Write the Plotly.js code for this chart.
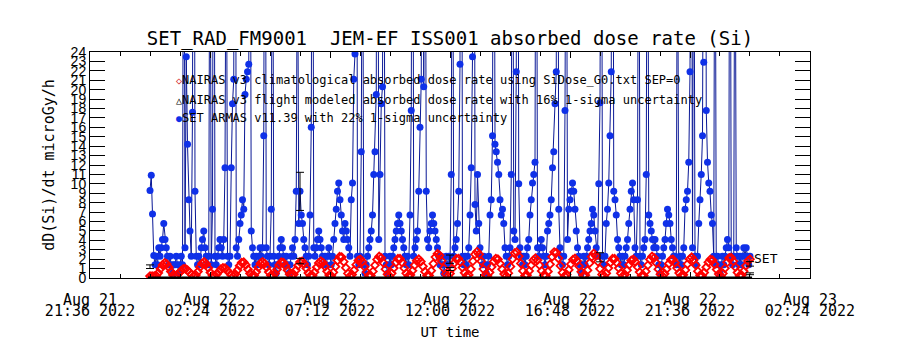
<!DOCTYPE html>
<html>
<head>
<meta charset="utf-8">
<script src="https://cdn.plot.ly/plotly-3.0.1.min.js"></script>
<style>html,body{margin:0;padding:0;background:#fff;}#chart{width:900px;height:350px;}</style>
</head>
<body>
<div id="chart"></div>
<script>
// ---- DATA ----
// SET ARMAS dose rate (microGy/h), 3-minute samples starting 2022-08-22 00:00 UT
const seriesStartUTC = '2022-08-22 00:00:00';
const blueStepMinutes = 3;
const setArmasValues = [
 9.3,10.9,6.8,2.4,1.4,2.3,1.4,3.2,2.3,3.2,4.1,5.8,4.1,3.2,2.3,1.4,2.3,1.4,0.5,1.4,
 1.4,2.3,1.4,0.5,1.4,2.3,1.4,60,3.2,23.5,14.2,8.3,5.0,2.3,17.6,80,9.2,2.3,1.4,2.3,
 1.4,3.2,4.1,5.0,3.2,2.3,1.4,2.3,50,1.4,7.3,70,2.3,1.4,2.3,3.2,4.1,3.2,2.3,4.1,
 11.7,45,2.3,1.4,2.3,11.7,18.5,21.1,90,3.2,2.3,4.1,5.8,6.7,8.3,7.3,19.5,21.1,21.9,22.7,
 60,5.0,3.2,2.3,1.4,2.3,1.4,2.3,3.2,2.3,3.2,15.1,70,3.2,2.3,1.4,2.3,7.3,55,2.3,
 1.4,0.5,1.4,2.3,3.2,4.1,3.2,2.3,1.4,2.3,1.4,0.5,1.4,2.3,3.2,2.3,4.1,9.2,40,5.8,
 9.2,6.7,5.8,4.1,3.2,2.3,1.4,2.3,6.7,16.0,65,3.2,2.3,3.2,4.1,5.0,4.1,3.2,2.3,1.4,
 2.3,1.4,2.3,3.2,2.3,1.4,2.3,4.1,5.8,7.3,9.2,10.1,8.3,6.7,5.0,4.1,5.8,5.0,4.1,3.2,
 2.3,8.3,10.1,21.1,23.8,85,2.3,1.4,2.3,13.4,50,1.4,0.5,1.4,2.3,3.2,4.1,5.0,6.7,11.0,
 13.4,19.5,75,4.1,11.0,18.5,20.3,60,2.3,1.4,0.5,1.4,2.3,1.4,2.3,3.2,4.1,5.0,5.8,6.7,
 5.8,5.0,4.1,3.2,2.3,1.4,2.3,1.4,6.7,17.8,70,2.3,3.2,4.1,5.0,9.2,16.0,21.1,90,20.3,
 60,9.2,4.1,3.2,5.0,5.8,6.7,5.8,5.0,4.1,3.2,2.3,1.4,2.3,1.4,0.5,1.4,2.3,1.4,2.3,
 1.4,11.0,55,2.3,3.2,4.1,5.8,9.2,22.7,80,2.3,1.4,2.3,1.4,2.3,3.2,6.7,11.7,23.5,95,
 7.8,5.0,11.0,5.8,3.2,2.3,1.4,2.3,1.4,0.5,1.4,2.3,6.7,8.3,15.1,70,14.2,13.4,12.3,11.0,
 8.3,6.7,7.3,5.8,3.2,2.3,1.4,2.3,3.2,11.0,60,5.0,4.1,21.9,75,10.0,3.2,2.3,1.4,2.3,
 1.4,2.3,3.2,4.1,6.7,8.3,10.1,11.0,12.3,65,3.2,2.3,3.2,4.1,3.2,2.3,1.4,2.3,5.0,5.8,
 6.7,8.3,11.7,13.4,18.5,21.9,70,7.3,3.2,2.3,1.4,2.3,17.8,55,4.1,7.3,8.3,9.2,10.1,9.2,
 7.3,5.0,3.2,2.3,1.4,0.5,1.4,2.3,1.4,2.3,3.2,4.1,5.0,5.8,7.3,6.7,5.0,3.2,2.3,10.0,
 18.6,65,2.3,1.4,2.3,5.8,7.3,10.1,15.1,21.9,80,9.2,8.3,6.7,4.1,3.2,2.3,1.4,2.3,1.4,
 2.3,3.2,4.1,5.8,7.3,9.2,10.1,8.3,3.2,2.3,8.3,55,2.3,1.4,2.3,3.2,4.1,11.0,60,6.7,
 5.8,5.0,4.1,3.2,4.1,3.2,2.3,1.4,0.5,1.4,2.3,3.2,4.1,5.8,7.3,6.7,5.8,4.1,3.2,2.3,
 2.3,1.4,45,1.4,2.3,1.4,2.3,3.2,7.3,8.3,9.2,12.3,21.9,70,3.2,50,2.3,1.4,2.3,5.8,
 8.3,11.0,15.1,22.9,90,17.8,12.3,10.1,9.2,6.7,5.8,2.3,55,1.4,2.3,1.4,0.5,1.4,2.3,1.4,
 2.3,3.2,4.1,3.2,60,2.3,1.4,2.3,50,3.2,2.3,1.4,2.3,1.4,2.3,3.2,2.3,3.2,2.3,1.4,
 2.3
];

// NAIRAS v3 climatological dose rate (microGy/h), 5-minute samples starting 2022-08-22 00:00 UT
const redStepMinutes = 5;
const nairasClimValues = [
 0.2,0.2,0.2,0.24,0.54,0.97,1.38,1.59,1.49,1.14,0.69,0.33,
 0.2,0.31,0.54,0.78,0.97,0.98,0.83,0.58,0.35,0.22,
 0.31,0.68,1.16,1.55,1.7,1.49,1.07,0.59,0.26,
 0.21,0.39,0.67,0.93,1.08,1.05,0.83,0.55,0.31,
 0.2,0.41,0.83,1.3,1.64,1.67,1.39,0.92,0.49,0.23,
 0.28,0.64,1.12,1.54,1.7,1.54,1.12,0.64,0.28,
 0.22,0.49,0.92,1.39,1.67,1.64,1.3,0.83,0.41,0.2,
 0.39,0.82,1.32,1.7,1.77,1.5,1.03,0.54,0.23,
 0.26,0.62,1.13,1.58,1.8,1.64,1.22,0.71,0.31,
 0.24,0.6,1.21,1.86,2.26,2.22,1.73,1.08,0.49,0.2,
 0.36,0.83,1.41,1.86,1.98,1.71,1.19,0.63,0.25,
 0.26,0.7,1.36,1.96,2.28,2.13,1.61,0.94,0.39,
 0.22,0.5,1.06,1.64,2.04,2.04,1.64,1.06,0.5,0.22,
 0.33,0.78,1.35,1.82,2.0,1.75,1.24,0.67,0.27,
 0.27,0.78,1.52,2.22,2.58,2.41,1.81,1.04,0.42,0.2,
 0.47,1.0,1.59,2.02,2.06,1.7,1.11,0.56,0.24,
 0.33,0.95,1.79,2.51,2.8,2.51,1.79,0.95,0.33,
 0.22,0.6,1.19,1.74,2.06,1.99,1.53,0.94,0.43,0.2,
 0.51,1.21,2.02,2.64,2.75,2.31,1.55,0.75,0.24,
 0.3,0.75,1.36,1.89,2.1,1.89,1.36,0.75,0.3,
 0.23,0.69,1.45,2.25,2.75,2.7,2.1,1.29,0.56,0.2,
 0.37,0.87,1.47,1.95,2.08,1.8,1.25,0.66,0.26,
 0.3,0.82,1.59,2.26,2.6,2.36,1.74,0.97,0.37,
 0.22,0.5,1.06,1.64,2.04,2.04,1.64,1.06,0.5,0.22,
 0.36,0.83,1.41,1.86,1.98,1.71,1.19,0.63,0.25,
 0.26,0.7,1.36,1.96,2.28,2.13,1.61,0.94,0.39,0.2,
 0.45,0.96,1.51,1.93,1.96,1.62,1.06,0.54,0.23,
 0.34,0.84,1.48,2.0,2.2,1.92,1.36,0.72,0.28,
 0.23,0.58,1.14,1.66,1.96,1.89,1.46,0.9,0.42,0.2,
 0.48,1.04,1.66,2.12,2.16,1.78,1.16,0.58,0.24,
 0.29,0.72,1.3,1.8,2.0
];

// NAIRAS v3 flight modeled dose rate baseline (hourly)
const flightBaseTimes = [
 '2022-08-21 23:55','2022-08-22 01:00','2022-08-22 02:00','2022-08-22 03:00','2022-08-22 04:00',
 '2022-08-22 05:00','2022-08-22 06:00','2022-08-22 07:00','2022-08-22 08:00','2022-08-22 09:00',
 '2022-08-22 10:00','2022-08-22 11:00','2022-08-22 12:00','2022-08-22 13:00','2022-08-22 14:00',
 '2022-08-22 15:00','2022-08-22 16:00','2022-08-22 17:00','2022-08-22 18:00','2022-08-22 19:00',
 '2022-08-22 20:00','2022-08-22 21:00','2022-08-22 22:00','2022-08-22 23:00','2022-08-23 00:05'
];
const flightBaseValues = [0,0,0,0,0,0,0,0,0,0,0,0,0,0,0,0,0,0,0,0,0,0,0,0,0];

// NAIRAS flight modeled points with 16% 1-sigma uncertainty
const flightErrTimes = ['2022-08-22 00:00','2022-08-22 06:00','2022-08-22 12:00','2022-08-23 00:00'];
const flightErrValues = [1.2, 1.8, 0.95, 1.5];
const flightErrPercent = 16;

// SET ARMAS points with 22% 1-sigma uncertainty
const setErrTimes = ['2022-08-22 06:00','2022-08-22 12:00','2022-08-22 18:00','2022-08-23 00:00'];
const setErrValues = [9.2, 2.0, 2.2, 0.45];
const setErrPercent = 22;

// Axis ticks
const xRange = ['2022-08-21 21:35:59', '2022-08-23 02:24:01'];
const xTickVals = ['2022-08-21 21:36','2022-08-22 02:24','2022-08-22 07:12','2022-08-22 12:00','2022-08-22 16:48','2022-08-22 21:36','2022-08-23 02:24'];
const xTickLine1 = ['Aug 21','Aug 22','Aug 22','Aug 22','Aug 22','Aug 22','Aug 23'];
const xTickLine2 = ['21:36 2022','02:24 2022','07:12 2022','12:00 2022','16:48 2022','21:36 2022','02:24 2022'];
const xMinorStart = '2022-08-21 21:36';
const xMinorStepMinutes = 72;
const yRange = [0, 24];
const yTickStep = 1;

const legendTexts = [
 'NAIRAS v3 climatological absorbed dose rate using SiDose_G0.txt SEP=0',
 'NAIRAS v3 flight modeled absorbed dose rate with 16% 1-sigma uncertainty',
 'SET ARMAS v11.39 with 22% 1-sigma uncertainty'
];

// ---- BUILD ----
function parseUTC(s){ const [d,t]=s.split(' '); const [Y,M,D]=d.split('-').map(Number); const [h,m,sec]=(t+':0').split(':').map(Number); return Date.UTC(Y,M-1,D,h,m,sec||0); }
const t0 = parseUTC(seriesStartUTC);
const setTimes = setArmasValues.map((_, j) => t0 + j*blueStepMinutes*60000);
const redTimes = nairasClimValues.map((_, i) => t0 + i*redStepMinutes*60000);

const traces = [
 { x: setTimes, y: setArmasValues, mode: 'lines+markers', type: 'scatter',
   line: {color: '#0a1896', width: 1}, marker: {color: '#0f30e8', size: 7, symbol: 'circle'},
   hoverinfo: 'skip' },
 { x: redTimes, y: nairasClimValues, mode: 'markers', type: 'scatter',
   marker: {color: '#ff0000', size: 6, symbol: 'diamond-open', line: {width: 1.8, color: '#ff0000'}},
   hoverinfo: 'skip' },
 { x: flightBaseTimes, y: flightBaseValues, mode: 'lines', type: 'scatter',
   line: {color: '#000', width: 3}, hoverinfo: 'skip' },
 { x: flightErrTimes, y: flightErrValues, mode: 'markers', type: 'scatter',
   marker: {color: 'rgba(0,0,0,0)', size: 2},
   error_y: {type: 'percent', value: flightErrPercent, color: '#000', thickness: 1, width: 4},
   hoverinfo: 'skip' },
 { x: setErrTimes, y: setErrValues, mode: 'markers', type: 'scatter',
   marker: {color: 'rgba(0,0,0,0)', size: 2},
   error_y: {type: 'percent', value: setErrPercent, color: '#000', thickness: 1, width: 4},
   hoverinfo: 'skip' },
 { x: [t0], y: [null], xaxis: 'x2', mode: 'markers', type: 'scatter', hoverinfo: 'skip' }
];

const mono = 'DejaVu Sans Mono, monospace';
const legendColors = ['#d01010', '#000000', '#0f30e8'];
const legendSymbols = ['\u25C7', '\u25B3', '\u25CF'];
const legendY = [0.876, 0.788, 0.708];
const annotations = legendTexts.map((t, k) => ({
  xref: 'paper', yref: 'paper', x: 0.117, y: legendY[k], xanchor: 'left', yanchor: 'middle',
  showarrow: false, align: 'left',
  text: '<span style="color:' + legendColors[k] + ';font-size:10px">' + legendSymbols[k] + '</span>' + t,
  font: {family: mono, size: 12, color: '#000'}
}));
annotations.push({ xref: 'paper', yref: 'paper', x: 0.919, y: 0.088, xanchor: 'left', yanchor: 'middle',
  showarrow: false, text: 'SET', font: {family: mono, size: 13, color: '#000'} });

const layout = {
  width: 900, height: 350,
  margin: {l: 90, r: 90, t: 52, b: 72, pad: 0},
  paper_bgcolor: '#fff', plot_bgcolor: '#fff',
  font: {family: mono, color: '#000'},
  showlegend: false,
  title: {text: 'SET_RAD_FM9001\u00a0\u00a0JEM-EF ISS001 absorbed dose rate (Si)',
          font: {family: mono, size: 19, color: '#000'},
          x: 0.5, xref: 'container', xanchor: 'center', y: 1 - 38/350, yref: 'container', yanchor: 'middle'},
  xaxis: {type: 'date', range: xRange, tickmode: 'array', tickvals: xTickVals, ticktext: xTickLine1,
          ticks: 'inside', ticklen: 6, tickcolor: '#000', tickwidth: 1,
          showline: true, linecolor: '#000', linewidth: 1, mirror: 'ticks',
          showgrid: false, zeroline: false, tickfont: {family: mono, size: 15, color: '#000'},
          ticklabelstandoff: 8,
          minor: {ticks: 'inside', ticklen: 4, tick0: xMinorStart, dtick: xMinorStepMinutes*60000, tickcolor: '#000', showgrid: false}},
  xaxis2: {type: 'date', range: xRange, overlaying: 'x', side: 'bottom', anchor: 'y',
           tickmode: 'array', tickvals: xTickVals, ticktext: xTickLine2, ticks: '',
           showline: false, showgrid: false, zeroline: false,
           tickfont: {family: mono, size: 15, color: '#000'}, ticklabelstandoff: 22,
           title: {text: 'UT time', font: {family: mono, size: 14, color: '#000'}, standoff: 8}},
  yaxis: {range: yRange, tick0: 0, dtick: yTickStep, ticks: 'inside', ticklen: 15, tickcolor: '#000',
          showline: true, linecolor: '#000', linewidth: 1, mirror: 'ticks',
          showgrid: false, zeroline: false,
          tickfont: {family: 'Liberation Sans, sans-serif', size: 14, color: '#000'},
          title: {text: 'dD(Si)/dt microGy/h', font: {family: mono, size: 15, color: '#000'}, standoff: 12}},
  annotations: annotations
};

Plotly.newPlot('chart', traces, layout, {staticPlot: true, displayModeBar: false});
</script>
</body>
</html>
